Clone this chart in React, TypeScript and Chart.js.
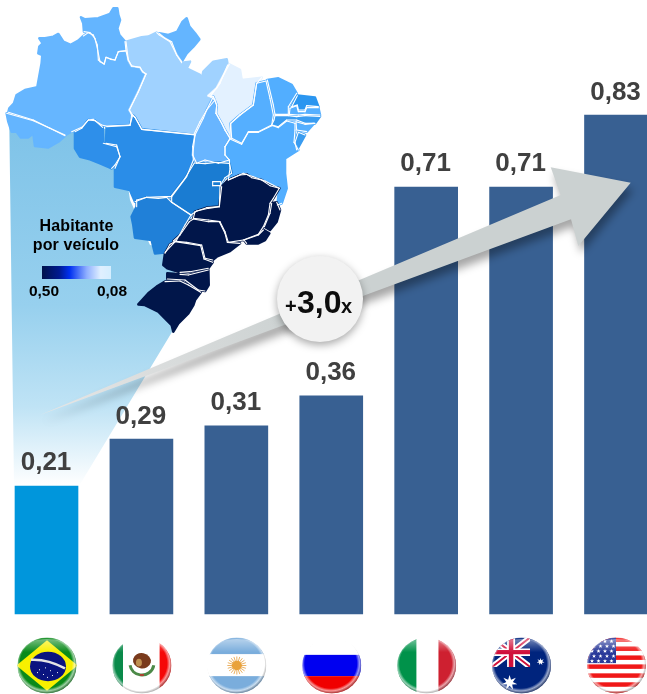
import React, { useEffect, useRef } from "react";
import { Chart, registerables } from "chart.js";

Chart.register(...registerables);

const countries = ["Brasil", "México", "Argentina", "Rússia", "Itália", "Austrália", "EUA"];
const vehiclesPerPerson = [0.213, 0.291, 0.313, 0.363, 0.7105, 0.7105, 0.83];
const barColors = ["#0096DC", "#386092", "#386092", "#386092", "#386092", "#386092", "#386092"];
const legendLow = "0,50";
const legendHigh = "0,08";
const multipleText = "3,0";

const FONT = '"Liberation Sans", Arial, sans-serif';
const DARK = "#01164A";

// Map outlines, traced at 3x from an origin: [colour, originX, originY, points]
type Poly = [string, number, number, number[]];
const mapStates: Poly[] = [
  ["#64B5FF", 0, 0, [243,52,255,58,295,55,330,42,340,25,352,25,355,45,360,60,352,85,358,105,375,125,378,152,355,155,345,180,332,178,318,172,313,192,300,185,293,150,285,115,270,98,252,95,250,70]],
  ["#64B5FF", 0, 0, [478,100,505,105,532,95,548,65,560,55,568,80,585,100,598,118,580,140,560,160,545,185,530,165,515,125,495,115]],
  ["#66B6FF", 0, 0, [118,115,135,115,160,110,175,102,190,125,212,135,235,122,250,108,265,98,280,105,292,135,295,180,312,192,318,172,335,178,345,180,355,155,378,153,385,180,395,198,420,202,428,215,438,222,415,275,388,330,395,345,390,375,318,378,305,375,280,358,265,360,245,382,215,395,195,405,150,385,100,360,25,337,28,325,42,310,50,285,75,270,112,262,125,190,127,165,115,160,118,140,128,130]],
  ["#64B5FF", 0, 0, [20,340,100,362,150,385,195,407,175,425,145,442,105,438,100,400,85,412,62,412,50,395,35,395,25,365]],
  ["#A0D2FF", 0, 0, [378,125,425,112,445,110,470,98,478,105,510,125,530,165,545,188,570,185,560,205,580,215,600,225,603,250,610,215,640,185,680,178,683,195,660,250,630,290,645,300,620,330,600,365,582,403,425,388,405,352,398,345,388,330,415,275,438,222,428,215,420,202,395,198,385,180]],
  ["#2E8FEA", 0, 0, [225,395,245,385,265,360,285,362,308,382,310,430,350,440,360,470,345,495,335,505,300,490,270,478,240,470,225,445]],
  ["#2A8DE8", 0, 0, [320,380,390,376,398,345,405,352,425,388,585,405,578,440,580,480,560,530,515,590,495,590,440,592,405,605,390,570,345,560,345,505,360,470,350,435,318,430]],
  ["#E3F1FF", 190, 55, [118,28,150,45,155,75,215,68,200,85,190,150,150,180,122,205,120,250,105,225,95,205,78,175,80,150,70,125,55,122,80,100]],
  ["#68B5FF", 190, 55, [70,125,80,150,78,175,95,205,105,225,120,250,105,275,105,300,118,315,85,325,45,315,20,325,8,300,15,240,40,190,50,165]],
  ["#55AFFF", 190, 55, [228,78,240,130,250,180,245,210,205,230,175,230,155,265,125,250,122,205,150,180,190,150,200,85]],
  ["#52AEFF", 190, 55, [232,75,265,70,305,90,320,115,295,155,295,178,255,178,250,150]],
  ["#2B96F0", 190, 55, [322,122,375,128,385,155,350,152,345,165,325,165,322,150,305,155]],
  ["#55AFFF", 190, 55, [300,160,320,152,325,170,345,170,350,158,385,158,390,180,345,178,325,180,298,178]],
  ["#3A9CF0", 190, 55, [255,182,295,182,320,185,345,182,390,184,375,205,345,205,320,195,290,195,265,215,245,210,252,195]],
  ["#55AFFF", 190, 55, [318,200,345,208,372,205,350,230,320,225]],
  ["#3A9CF0", 190, 55, [325,232,345,240,320,285,315,262]],
  ["#52AEFF", 190, 55, [250,212,265,218,290,198,315,205,315,225,312,262,325,285,285,310,285,355,290,400,275,445,262,450,268,400,225,378,190,365,160,355,115,375,120,340,118,315,105,300,105,275,120,252,155,268,175,232,205,232,245,212]],
  ["#1A7CD2", 130, 165, [193,-6,225,-4,258,-8,298,-5,305,25,285,38,270,62,268,125,235,130,200,138,183,150,125,112,125,92,165,40]],
  ["#1A7CD2", 130, 165, [248,50,272,50,272,62,248,62]],
  ["#2080D8", 130, 165, [20,105,50,97,85,100,110,97,125,112,183,150,165,180,140,225,105,262,75,265,65,225,15,218,10,180,5,155,20,125]],
  [DARK, 130, 165, [275,65,295,45,330,30,350,28,365,38,395,45,420,62,448,70,430,100,420,115,415,150,400,185,385,208,340,225,295,232,285,200,270,170,235,165,190,160,195,140,230,128,268,125]],
  [DARK, 130, 165, [425,115,440,112,450,135,440,170,420,195,403,185,420,145]],
  [DARK, 130, 165, [400,195,418,205,405,225,385,235,350,235,342,225,385,210]],
  [DARK, 130, 165, [178,170,190,162,235,170,268,170,285,205,292,232,330,235,300,258,260,275,248,285,225,280,215,240,170,232,130,228,150,210]],
  [DARK, 130, 165, [120,238,135,230,170,235,212,242,222,282,248,292,235,310,180,320,150,322,112,310,100,300,105,265]],
  [DARK, 130, 165, [112,325,150,328,175,330,235,315,236,360,225,378,205,375,165,345,112,342]],
  [DARK, 130, 165, [105,350,150,348,175,360,212,382,195,405,190,420,175,445,145,475,130,500,125,480,85,440,45,420,25,418,55,385,80,365]],
];

function star(ctx: CanvasRenderingContext2D, x: number, y: number, r: number, n = 5, inner = 0.42) {
  ctx.beginPath();
  for (let i = 0; i < n * 2; i++) {
    const a = -Math.PI / 2 + (i * Math.PI) / n;
    const q = i % 2 ? r * inner : r;
    ctx.lineTo(x + Math.cos(a) * q, y + Math.sin(a) * q);
  }
  ctx.closePath();
  ctx.fill();
}

function bands(ctx: CanvasRenderingContext2D, x: number, y: number, r: number, colors: string[], vertical: boolean, stops: number[]) {
  colors.forEach((c, i) => {
    ctx.fillStyle = c;
    const a = stops[i] * 2 * r;
    const b = stops[i + 1] * 2 * r;
    if (vertical) ctx.fillRect(x - r + a, y - r, b - a, 2 * r);
    else ctx.fillRect(x - r, y - r + a, 2 * r, b - a);
  });
}

const flagPainters: ((c: CanvasRenderingContext2D, x: number, y: number, r: number) => void)[] = [
  (c, x, y, r) => {
    c.fillStyle = "#0A8A1A"; c.fillRect(x - r, y - r, 2 * r, 2 * r);
    c.fillStyle = "#F8F000";
    c.beginPath(); c.moveTo(x - r - 1, y); c.lineTo(x, y - r + 3); c.lineTo(x + r + 1, y); c.lineTo(x, y + r - 3); c.closePath(); c.fill();
    c.fillStyle = "#0A1480"; c.beginPath(); c.ellipse(x + 1, y + 1, 18, 15.5, 0, 0, 7); c.fill();
    c.strokeStyle = "#E4E4E4"; c.lineWidth = 2.5; c.beginPath(); c.moveTo(x - 16, y - 6); c.quadraticCurveTo(x, y - 7, x + 18, y + 3); c.stroke();
    c.fillStyle = "#fff";
    [[-8, 4], [-2, 2], [3, 5], [-4, 9], [5, 10], [-10, 7], [10, 7], [0, 12]].forEach(([a, b]) => c.fillRect(x + a, y + b, 1, 1));
  },
  (c, x, y, r) => {
    bands(c, x, y, r, ["#0A8A4A", "#FFFFFF", "#F50808"], true, [0, 0.18, 0.8, 1]);
    c.strokeStyle = "#4C8A48"; c.lineWidth = 3; c.beginPath(); c.arc(x, y - 2, 12, 0.15, Math.PI - 0.15); c.stroke();
    c.fillStyle = "#7A3A1C"; c.beginPath(); c.ellipse(x, y - 5, 9, 8, 0.2, 0, 7); c.fill();
    c.fillStyle = "#C09050"; c.beginPath(); c.ellipse(x - 3, y - 3, 3, 4, 0, 0, 7); c.fill();
    c.fillStyle = "#B04030"; c.fillRect(x - 2, y + 9, 4, 2);
  },
  (c, x, y, r) => {
    bands(c, x, y, r, ["#7AADDC", "#FFFFFF", "#7AADDC"], false, [0, 0.3, 0.69, 1]);
    c.strokeStyle = "#EAB060"; c.lineWidth = 1;
    for (let i = 0; i < 20; i++) {
      const a = (i * Math.PI) / 10;
      c.beginPath(); c.moveTo(x + Math.cos(a) * 4, y + Math.sin(a) * 4); c.lineTo(x + Math.cos(a) * 9.5, y + Math.sin(a) * 9.5); c.stroke();
    }
    c.fillStyle = "#E9A23B"; c.beginPath(); c.arc(x, y, 5, 0, 7); c.fill();
  },
  (c, x, y, r) => bands(c, x, y, r, ["#FFFFFF", "#0000F0", "#F00000"], false, [0, 0.31, 0.69, 1]),
  (c, x, y, r) => bands(c, x, y, r, ["#00924A", "#FFFFFF", "#CE2030"], true, [0, 0.33, 0.7, 1]),
  (c, x, y, r) => {
    c.fillStyle = "#00247D"; c.fillRect(x - r, y - r, 2 * r, 2 * r);
    const L = x - r, T = y - r, W = 38, H = 31;
    c.save(); c.beginPath(); c.rect(L, T, W, H); c.clip();
    c.strokeStyle = "#FFFFFF"; c.lineWidth = 6;
    c.beginPath(); c.moveTo(L, T); c.lineTo(L + W, T + H); c.moveTo(L + W, T); c.lineTo(L, T + H); c.stroke();
    c.strokeStyle = "#D0103A"; c.lineWidth = 2;
    c.beginPath(); c.moveTo(L, T); c.lineTo(L + W, T + H); c.moveTo(L + W, T); c.lineTo(L, T + H); c.stroke();
    c.strokeStyle = "#FFFFFF"; c.lineWidth = 8;
    c.beginPath(); c.moveTo(L + W / 2, T); c.lineTo(L + W / 2, T + H); c.moveTo(L, T + H / 2); c.lineTo(L + W, T + H / 2); c.stroke();
    c.strokeStyle = "#D0103A"; c.lineWidth = 4.5;
    c.beginPath(); c.moveTo(L + W / 2, T); c.lineTo(L + W / 2, T + H); c.moveTo(L, T + H / 2); c.lineTo(L + W, T + H / 2); c.stroke();
    c.restore();
    c.fillStyle = "#FFFFFF";
    star(c, x - 12, y + 18, 8, 7);
    star(c, x + 19, y - 4, 4, 7);
  },
  (c, x, y, r) => {
    c.fillStyle = "#FFFFFF"; c.fillRect(x - r, y - r, 2 * r, 2 * r);
    c.fillStyle = "#F01818";
    for (let i = 0; i < 13; i += 2) c.fillRect(x - r, y - r + (i * 2 * r) / 12.5, 2 * r, (2 * r) / 12.5);
    c.fillStyle = "#2A3A9A"; c.fillRect(x - r, y - r, 29, 27);
    c.fillStyle = "#FFFFFF";
    for (let j = 0; j < 5; j++) for (let i = 0; i < 4; i++) star(c, x - r + 5 + i * 6.5 + (j % 2) * 2, y - r + 4 + j * 5.2, 2.2);
  },
];

function drawFlag(ctx: CanvasRenderingContext2D, i: number, x: number, y: number, rx: number, ry: number) {
  ctx.save();
  ctx.translate(x, y);
  ctx.scale(1, ry / rx);
  ctx.translate(-x, -y);
  const r = rx;
  ctx.beginPath(); ctx.arc(x, y, r, 0, Math.PI * 2); ctx.clip();
  flagPainters[i](ctx, x, y, r);
  const gloss = ctx.createLinearGradient(x, y - r, x, y - 14);
  gloss.addColorStop(0, "rgba(255,255,255,0.5)");
  gloss.addColorStop(1, "rgba(255,255,255,0)");
  ctx.fillStyle = gloss;
  ctx.beginPath(); ctx.ellipse(x, y - r * 0.55, r * 0.8, r * 0.4, 0, 0, 7); ctx.fill();
  const rim = ctx.createRadialGradient(x - 1, y - 2, r * 0.88, x - 1, y - 2, r + 2);
  rim.addColorStop(0, "rgba(255,255,255,0)");
  rim.addColorStop(0.5, "rgba(255,255,255,0.6)");
  rim.addColorStop(1, "rgba(90,90,90,0.5)");
  ctx.fillStyle = rim;
  ctx.fillRect(x - r, y - r, 2 * r, 2 * r);
  ctx.restore();
}

function drawMap(ctx: CanvasRenderingContext2D) {
  const paths = mapStates.map(([, ox, oy, pts]) => {
    const p = new Path2D();
    for (let i = 0; i < pts.length; i += 2) p.lineTo(ox + pts[i] / 3, oy + pts[i + 1] / 3);
    p.closePath();
    return p;
  });
  ctx.lineJoin = "round";
  // fill, slightly grown so that neighbouring traced outlines meet
  ctx.lineWidth = 2.6;
  mapStates.forEach(([color], i) => {
    ctx.fillStyle = color;
    ctx.strokeStyle = color;
    ctx.stroke(paths[i]);
    ctx.fill(paths[i]);
  });
  // white borders only where two states touch
  mapStates.forEach(([, ox, oy, pts], i) => {
    const n = pts.length / 2;
    for (let k = 0; k < n; k++) {
      const x1 = ox + pts[2 * k] / 3, y1 = oy + pts[2 * k + 1] / 3;
      const j = (k + 1) % n;
      const x2 = ox + pts[2 * j] / 3, y2 = oy + pts[2 * j + 1] / 3;
      const mx = (x1 + x2) / 2, my = (y1 + y2) / 2;
      ctx.lineWidth = 6;
      const shared = paths.some((p, q) => q !== i && (ctx.isPointInPath(p, mx, my) || ctx.isPointInStroke(p, mx, my)));
      if (shared) {
        ctx.lineWidth = 1.1;
        ctx.lineCap = "round";
        ctx.strokeStyle = "#FFFFFF";
        ctx.beginPath(); ctx.moveTo(x1, y1); ctx.lineTo(x2, y2); ctx.stroke();
      }
    }
  });
}

const backdropPlugin = {
  id: "backdrop",
  beforeDatasetsDraw(chart: Chart) {
    const ctx = chart.ctx;
    ctx.save();
    const g = ctx.createLinearGradient(0, 125, 0, 486);
    g.addColorStop(0, "#7FC3E8");
    g.addColorStop(0.5, "#97D0EE");
    g.addColorStop(0.78, "#BFE3F5");
    g.addColorStop(1, "#FFFFFF");
    ctx.fillStyle = g;
    ctx.beginPath();
    ctx.moveTo(9.3, 123); ctx.lineTo(60, 125); ctx.lineTo(120, 130); ctx.lineTo(130, 200); ctx.lineTo(150, 245);
    ctx.lineTo(175, 250); ctx.lineTo(175, 290); ctx.lineTo(172, 332);
    ctx.lineTo(79, 486); ctx.lineTo(14, 486); ctx.closePath();
    ctx.fill();

    drawMap(ctx);

    ctx.fillStyle = "#000000";
    ctx.textAlign = "center";
    ctx.textBaseline = "alphabetic";
    ctx.font = `bold 16px ${FONT}`;
    (ctx as any).letterSpacing = "0.1px";
    ctx.fillText("Habitante", 76.5, 231);
    ctx.fillText("por veículo", 76, 250);
    (ctx as any).letterSpacing = "0px";
    const lg = ctx.createLinearGradient(42, 0, 111, 0);
    lg.addColorStop(0, "#00124A");
    lg.addColorStop(0.25, "#001A90");
    lg.addColorStop(0.4, "#0030F0");
    lg.addColorStop(0.65, "#90B0FF");
    lg.addColorStop(0.85, "#E0F0FF");
    lg.addColorStop(1, "#D4EEFF");
    ctx.fillStyle = lg;
    ctx.fillRect(42, 266, 69, 13);
    ctx.fillStyle = "#000000";
    ctx.font = `bold 15.5px ${FONT}`;
    ctx.fillText(legendLow, 44, 296);
    ctx.fillText(legendHigh, 112, 296);
    ctx.restore();
  },
  afterDatasetsDraw(chart: Chart) {
    const ctx = chart.ctx;
    const xs = chart.scales.x;
    const ys = chart.scales.y;
    ctx.save();
    ctx.fillStyle = "#404040";
    ctx.textAlign = "center";
    ctx.textBaseline = "alphabetic";
    ctx.font = `bold 26px ${FONT}`;
    vehiclesPerPerson.forEach((v, i) => {
      ctx.fillText(v.toFixed(2).replace(".", ","), xs.getPixelForValue(i) - 0.5, ys.getPixelForValue(v) - 15.5);
    });

    // growth arrow
    ctx.save();
    ctx.shadowColor = "rgba(0,0,0,0.35)";
    ctx.shadowBlur = 8;
    ctx.shadowOffsetX = 3;
    ctx.shadowOffsetY = 7;
    const ag = ctx.createLinearGradient(40, 415, 300, 300);
    ag.addColorStop(0, "#E6E6E6");
    ag.addColorStop(1, "#CBD1D1");
    ctx.fillStyle = ag;
    ctx.beginPath();
    ctx.moveTo(40, 415);
    ctx.lineTo(560.7, 195);
    ctx.lineTo(550.7, 167.3);
    ctx.lineTo(630.7, 182.7);
    ctx.lineTo(578.3, 246);
    ctx.lineTo(571, 219.3);
    ctx.closePath();
    ctx.fill();
    ctx.restore();

    // multiple bubble
    ctx.save();
    ctx.shadowColor = "rgba(0,0,0,0.35)";
    ctx.shadowBlur = 8;
    ctx.shadowOffsetY = 3;
    ctx.fillStyle = "#F2F2F2";
    ctx.beginPath(); ctx.arc(320, 299, 43, 0, Math.PI * 2); ctx.fill();
    ctx.restore();
    ctx.fillStyle = "#0D0D0D";
    ctx.textAlign = "left";
    ctx.font = `bold 20px ${FONT}`;
    ctx.fillText("+", 285, 313);
    ctx.font = `bold 32px ${FONT}`;
    ctx.fillText(multipleText, 297, 313);
    ctx.font = `bold 20px ${FONT}`;
    ctx.fillText("x", 341, 313);

    countries.forEach((_, i) => drawFlag(ctx, i, xs.getPixelForValue(i) + 0.5, 665.5, 29.5, 28));
    ctx.restore();
  },
};

export default function App() {
  const ref = useRef<HTMLCanvasElement>(null);
  useEffect(() => {
    const chart = new Chart(ref.current as HTMLCanvasElement, {
      type: "bar",
      data: {
        labels: countries,
        datasets: [{
          data: vehiclesPerPerson,
          backgroundColor: barColors,
          barThickness: 63,
          clip: false,
        } as any],
      },
      options: {
        responsive: false,
        animation: false,
        devicePixelRatio: 1,
        layout: { padding: { left: 46.5, right: 31, top: 13, bottom: 80 } },
        plugins: { legend: { display: false }, title: { display: false }, tooltip: { enabled: false } },
        scales: {
          x: { display: false, offset: false, grid: { display: false } },
          y: { display: false, min: 0, max: 1, grid: { display: false } },
        },
      },
      plugins: [backdropPlugin as any],
    });
    return () => chart.destroy();
  }, []);
  return (
    <div style={{ position: "absolute", left: 0, top: 0, width: 647, height: 694, overflow: "hidden", background: "#fff" }}>
      <canvas ref={ref} width={647} height={694} style={{ display: "block" }} />
    </div>
  );
}
